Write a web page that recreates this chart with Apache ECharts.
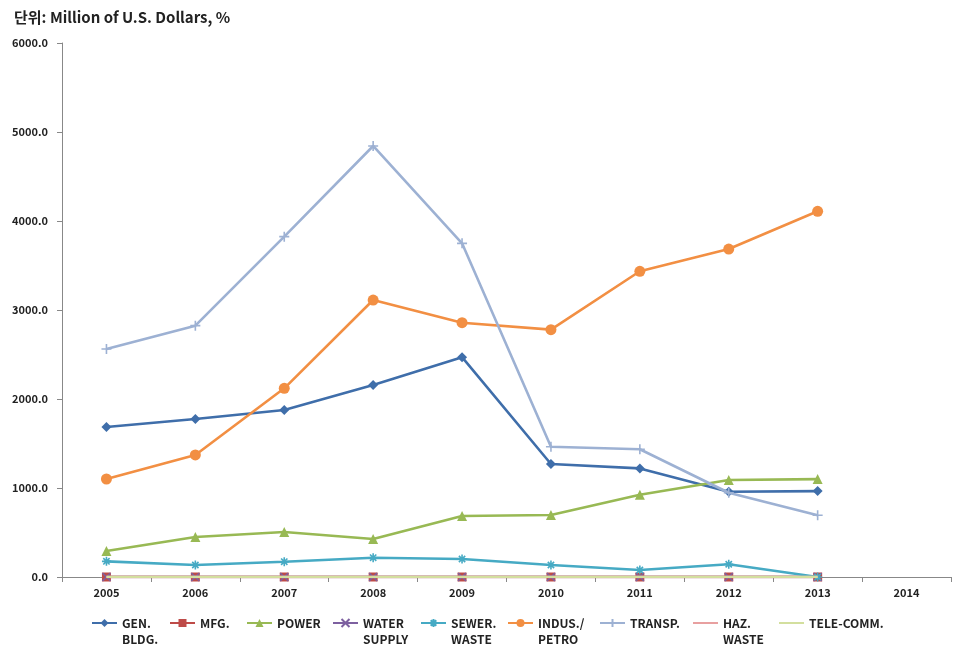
<!DOCTYPE html>
<html><head><meta charset="utf-8">
<script src="https://cdn.jsdelivr.net/npm/echarts@6/dist/echarts.min.js"></script>
<style>html,body{margin:0;padding:0;background:#fff}#c{width:966px;height:659px}</style>
</head><body><div id="c"></div>
<script>
var years = ['2005','2006','2007','2008','2009','2010','2011','2012','2013','2014'];
var yTicks = [0,1000,2000,3000,4000,5000,6000];
var genBldg = [1685,1775,1876,2157,2470,1270,1220,958,965,null];
var mfg = [0,0,0,0,0,0,0,0,0,null];
var power = [292,449,506,427,685,697,925,1090,1100,null];
var waterSupply = [0,0,0,0,0,0,0,0,0,null];
var sewerWaste = [176,135,172,217,202,135,79,143,0,null];
var indusPetro = [1101,1371,2120,3112,2857,2779,3435,3685,4109,null];
var transp = [2562,2824,3824,4843,3749,1464,1435,947,693,null];
var hazWaste = [0,0,0,0,0,0,0,0,0,null];
var teleComm = [0,0,0,0,0,0,0,0,0,null];
var names = ['GEN.\nBLDG.','MFG.','POWER','WATER\nSUPPLY','SEWER.\nWASTE','INDUS./\nPETRO','TRANSP.','HAZ.\nWASTE','TELE-COMM.'];

var X = 'path://M0,0L10,10M10,0L0,10';
var AST = 'path://M5,0L5,10M0,5L10,5M1.5,1.5L8.5,8.5M8.5,1.5L1.5,8.5';
var PLUS = 'path://M5,0L5,10M0,5L10,5';
var defs = [
  {d:genBldg, c:'#3F6EAA', s:'diamond', sz:10, stroke:false},
  {d:mfg, c:'#BE4B48', s:'rect', sz:9, stroke:false},
  {d:power, c:'#98B954', s:'triangle', sz:10, stroke:false},
  {d:waterSupply, c:'#7D60A0', s:X, sz:8, stroke:true},
  {d:sewerWaste, c:'#46AAC4', s:AST, sz:9, stroke:true},
  {d:indusPetro, c:'#F28F43', s:'circle', sz:11, stroke:false},
  {d:transp, c:'#9DB1D3', s:PLUS, sz:10, stroke:true},
  {d:hazWaste, c:'#E8A0A0', s:'none', sz:0, stroke:false},
  {d:teleComm, c:'#D3DF9E', s:'none', sz:0, stroke:false}
];
var series = defs.map(function(o,i){
  var it = o.stroke ? {color:o.c, borderColor:o.c, borderWidth:1.6} : {color:o.c};
  return {name:names[i], type:'line', data:o.d, symbol:o.s, symbolSize:o.sz, showSymbol:o.s!=='none',
    lineStyle:{color:o.c, width:2.6}, itemStyle:it, z:2+i, animation:false, connectNulls:false};
});
var legendLeft = [91,169,246,332,420,507,599,692,778];
var legends = names.map(function(n,i){
  var two = n.indexOf('\n')>=0;
  var noSym = defs[i].s === 'none';
  var lg = {data:[n], left:legendLeft[i], top: two ? 599 : 615, padding:0, itemWidth:25, itemHeight:10,
    textStyle:{fontFamily:'Noto Sans CJK KR', fontWeight:'bold', fontSize:12, color:'#222', lineHeight:16},
    selectedMode:false};
  if (two) lg.formatter = function(name){ return ' \n' + name; };
  if (noSym) lg.itemStyle = {opacity:0};
  return lg;
});
var chart = echarts.init(document.getElementById('c'));
chart.setOption({
  animation:false,
  title:{text:'단위: Million of U.S. Dollars, %', left:9, top:5,
    textStyle:{fontFamily:'Noto Sans CJK KR', fontWeight:'bold', fontSize:15, color:'#222'}},
  legend: legends,
  grid:{left:62, right:15, top:43, bottom:82},
  xAxis:{type:'category', data:years, boundaryGap:true,
    axisLine:{lineStyle:{color:'#888'}}, axisTick:{show:true, length:5, lineStyle:{color:'#888'}},
    axisLabel:{fontFamily:'Noto Sans CJK KR', fontWeight:'bold', fontSize:11, color:'#222', margin:10}},
  yAxis:{type:'value', min:yTicks[0], max:yTicks[yTicks.length-1], interval:1000,
    splitLine:{show:false}, axisLine:{show:true, lineStyle:{color:'#888'}},
    axisTick:{show:true, length:5, lineStyle:{color:'#888'}},
    axisLabel:{fontFamily:'Noto Sans CJK KR', fontWeight:'bold', fontSize:11, color:'#222', margin:14,
      formatter:function(v){return v.toFixed(1);}}},
  series: series
});
</script></body></html>
